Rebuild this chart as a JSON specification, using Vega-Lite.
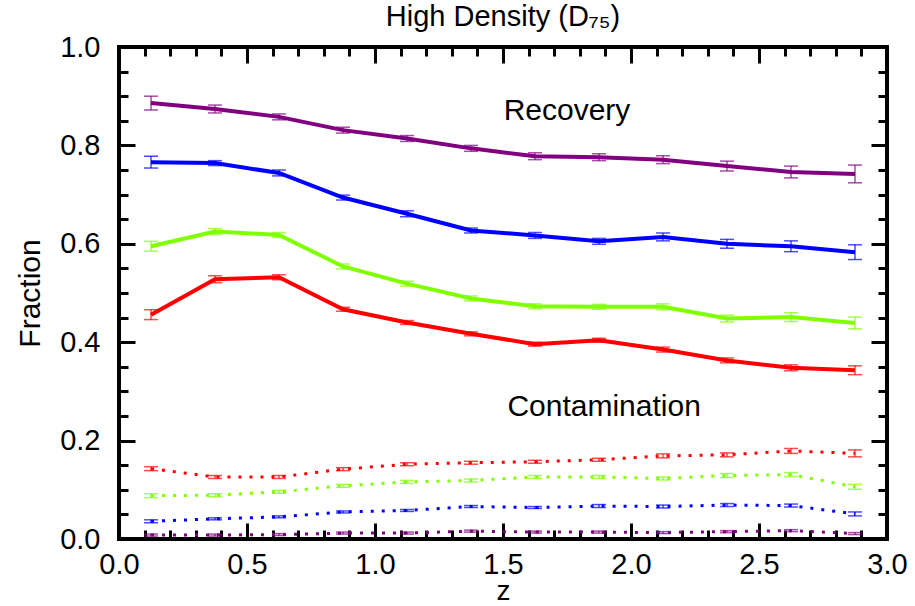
{
  "$schema": "https://vega.github.io/schema/vega-lite/v6.json",
  "width": 768,
  "height": 492,
  "autosize": {"type": "none"},
  "padding": {"left": 119, "top": 47, "right": 28, "bottom": 67},
  "background": "white",
  "config": {
    "font": "Liberation Sans",
    "view": {"stroke": "black", "strokeWidth": 4},
    "axis": {"domain": false, "grid": false, "labelFlush": false, "labelOverlap": false, "tickColor": "black", "tickWidth": 3, "labelColor": "black", "titleColor": "black", "labelFont": "Liberation Sans", "titleFont": "Liberation Sans", "titleFontWeight": "normal"}
  },
  "title": {"text": "High Density (D₇₅)", "fontSize": 29, "fontWeight": "normal", "font": "Liberation Sans", "color": "black", "offset": 14, "dy": 13, "anchor": "middle"},
  "datasets": {
    "points": [
      {"series": "S1", "kind": "recovery", "z": 0.125, "frac": 0.886, "lo": 0.872, "hi": 0.900},
      {"series": "S1", "kind": "recovery", "z": 0.375, "frac": 0.874, "lo": 0.866, "hi": 0.882},
      {"series": "S1", "kind": "recovery", "z": 0.625, "frac": 0.858, "lo": 0.852, "hi": 0.864},
      {"series": "S1", "kind": "recovery", "z": 0.875, "frac": 0.831, "lo": 0.825, "hi": 0.837},
      {"series": "S1", "kind": "recovery", "z": 1.125, "frac": 0.814, "lo": 0.808, "hi": 0.820},
      {"series": "S1", "kind": "recovery", "z": 1.375, "frac": 0.794, "lo": 0.788, "hi": 0.800},
      {"series": "S1", "kind": "recovery", "z": 1.625, "frac": 0.778, "lo": 0.771, "hi": 0.785},
      {"series": "S1", "kind": "recovery", "z": 1.875, "frac": 0.776, "lo": 0.769, "hi": 0.783},
      {"series": "S1", "kind": "recovery", "z": 2.125, "frac": 0.771, "lo": 0.763, "hi": 0.779},
      {"series": "S1", "kind": "recovery", "z": 2.375, "frac": 0.758, "lo": 0.748, "hi": 0.768},
      {"series": "S1", "kind": "recovery", "z": 2.625, "frac": 0.746, "lo": 0.734, "hi": 0.758},
      {"series": "S1", "kind": "recovery", "z": 2.875, "frac": 0.742, "lo": 0.724, "hi": 0.760},
      {"series": "S2", "kind": "recovery", "z": 0.125, "frac": 0.766, "lo": 0.754, "hi": 0.778},
      {"series": "S2", "kind": "recovery", "z": 0.375, "frac": 0.764, "lo": 0.759, "hi": 0.769},
      {"series": "S2", "kind": "recovery", "z": 0.625, "frac": 0.744, "lo": 0.738, "hi": 0.750},
      {"series": "S2", "kind": "recovery", "z": 0.875, "frac": 0.694, "lo": 0.689, "hi": 0.699},
      {"series": "S2", "kind": "recovery", "z": 1.125, "frac": 0.661, "lo": 0.655, "hi": 0.667},
      {"series": "S2", "kind": "recovery", "z": 1.375, "frac": 0.627, "lo": 0.622, "hi": 0.632},
      {"series": "S2", "kind": "recovery", "z": 1.625, "frac": 0.617, "lo": 0.611, "hi": 0.623},
      {"series": "S2", "kind": "recovery", "z": 1.875, "frac": 0.605, "lo": 0.599, "hi": 0.611},
      {"series": "S2", "kind": "recovery", "z": 2.125, "frac": 0.614, "lo": 0.606, "hi": 0.622},
      {"series": "S2", "kind": "recovery", "z": 2.375, "frac": 0.600, "lo": 0.591, "hi": 0.609},
      {"series": "S2", "kind": "recovery", "z": 2.625, "frac": 0.595, "lo": 0.584, "hi": 0.606},
      {"series": "S2", "kind": "recovery", "z": 2.875, "frac": 0.583, "lo": 0.568, "hi": 0.598},
      {"series": "S3", "kind": "recovery", "z": 0.125, "frac": 0.595, "lo": 0.585, "hi": 0.605},
      {"series": "S3", "kind": "recovery", "z": 0.375, "frac": 0.625, "lo": 0.619, "hi": 0.631},
      {"series": "S3", "kind": "recovery", "z": 0.625, "frac": 0.618, "lo": 0.613, "hi": 0.623},
      {"series": "S3", "kind": "recovery", "z": 0.875, "frac": 0.554, "lo": 0.549, "hi": 0.559},
      {"series": "S3", "kind": "recovery", "z": 1.125, "frac": 0.519, "lo": 0.514, "hi": 0.524},
      {"series": "S3", "kind": "recovery", "z": 1.375, "frac": 0.489, "lo": 0.484, "hi": 0.494},
      {"series": "S3", "kind": "recovery", "z": 1.625, "frac": 0.473, "lo": 0.468, "hi": 0.478},
      {"series": "S3", "kind": "recovery", "z": 1.875, "frac": 0.472, "lo": 0.467, "hi": 0.477},
      {"series": "S3", "kind": "recovery", "z": 2.125, "frac": 0.472, "lo": 0.466, "hi": 0.478},
      {"series": "S3", "kind": "recovery", "z": 2.375, "frac": 0.448, "lo": 0.441, "hi": 0.455},
      {"series": "S3", "kind": "recovery", "z": 2.625, "frac": 0.451, "lo": 0.442, "hi": 0.460},
      {"series": "S3", "kind": "recovery", "z": 2.875, "frac": 0.439, "lo": 0.427, "hi": 0.451},
      {"series": "S4", "kind": "recovery", "z": 0.125, "frac": 0.456, "lo": 0.446, "hi": 0.466},
      {"series": "S4", "kind": "recovery", "z": 0.375, "frac": 0.528, "lo": 0.521, "hi": 0.535},
      {"series": "S4", "kind": "recovery", "z": 0.625, "frac": 0.532, "lo": 0.527, "hi": 0.537},
      {"series": "S4", "kind": "recovery", "z": 0.875, "frac": 0.467, "lo": 0.463, "hi": 0.471},
      {"series": "S4", "kind": "recovery", "z": 1.125, "frac": 0.440, "lo": 0.436, "hi": 0.444},
      {"series": "S4", "kind": "recovery", "z": 1.375, "frac": 0.417, "lo": 0.413, "hi": 0.421},
      {"series": "S4", "kind": "recovery", "z": 1.625, "frac": 0.396, "lo": 0.392, "hi": 0.400},
      {"series": "S4", "kind": "recovery", "z": 1.875, "frac": 0.404, "lo": 0.400, "hi": 0.408},
      {"series": "S4", "kind": "recovery", "z": 2.125, "frac": 0.385, "lo": 0.380, "hi": 0.390},
      {"series": "S4", "kind": "recovery", "z": 2.375, "frac": 0.363, "lo": 0.358, "hi": 0.368},
      {"series": "S4", "kind": "recovery", "z": 2.625, "frac": 0.348, "lo": 0.342, "hi": 0.354},
      {"series": "S4", "kind": "recovery", "z": 2.875, "frac": 0.343, "lo": 0.334, "hi": 0.352},
      {"series": "S4", "kind": "contamination", "z": 0.125, "frac": 0.143, "lo": 0.139, "hi": 0.147},
      {"series": "S4", "kind": "contamination", "z": 0.375, "frac": 0.126, "lo": 0.123, "hi": 0.129},
      {"series": "S4", "kind": "contamination", "z": 0.625, "frac": 0.126, "lo": 0.123, "hi": 0.129},
      {"series": "S4", "kind": "contamination", "z": 0.875, "frac": 0.142, "lo": 0.139, "hi": 0.145},
      {"series": "S4", "kind": "contamination", "z": 1.125, "frac": 0.152, "lo": 0.149, "hi": 0.155},
      {"series": "S4", "kind": "contamination", "z": 1.375, "frac": 0.155, "lo": 0.152, "hi": 0.158},
      {"series": "S4", "kind": "contamination", "z": 1.625, "frac": 0.157, "lo": 0.154, "hi": 0.160},
      {"series": "S4", "kind": "contamination", "z": 1.875, "frac": 0.161, "lo": 0.158, "hi": 0.164},
      {"series": "S4", "kind": "contamination", "z": 2.125, "frac": 0.169, "lo": 0.165, "hi": 0.173},
      {"series": "S4", "kind": "contamination", "z": 2.375, "frac": 0.171, "lo": 0.167, "hi": 0.175},
      {"series": "S4", "kind": "contamination", "z": 2.625, "frac": 0.179, "lo": 0.174, "hi": 0.184},
      {"series": "S4", "kind": "contamination", "z": 2.875, "frac": 0.174, "lo": 0.167, "hi": 0.181},
      {"series": "S3", "kind": "contamination", "z": 0.125, "frac": 0.088, "lo": 0.084, "hi": 0.092},
      {"series": "S3", "kind": "contamination", "z": 0.375, "frac": 0.089, "lo": 0.086, "hi": 0.092},
      {"series": "S3", "kind": "contamination", "z": 0.625, "frac": 0.096, "lo": 0.093, "hi": 0.099},
      {"series": "S3", "kind": "contamination", "z": 0.875, "frac": 0.108, "lo": 0.105, "hi": 0.111},
      {"series": "S3", "kind": "contamination", "z": 1.125, "frac": 0.116, "lo": 0.113, "hi": 0.119},
      {"series": "S3", "kind": "contamination", "z": 1.375, "frac": 0.119, "lo": 0.116, "hi": 0.122},
      {"series": "S3", "kind": "contamination", "z": 1.625, "frac": 0.126, "lo": 0.123, "hi": 0.129},
      {"series": "S3", "kind": "contamination", "z": 1.875, "frac": 0.126, "lo": 0.123, "hi": 0.129},
      {"series": "S3", "kind": "contamination", "z": 2.125, "frac": 0.123, "lo": 0.120, "hi": 0.126},
      {"series": "S3", "kind": "contamination", "z": 2.375, "frac": 0.129, "lo": 0.125, "hi": 0.133},
      {"series": "S3", "kind": "contamination", "z": 2.625, "frac": 0.131, "lo": 0.127, "hi": 0.135},
      {"series": "S3", "kind": "contamination", "z": 2.875, "frac": 0.106, "lo": 0.101, "hi": 0.111},
      {"series": "S2", "kind": "contamination", "z": 0.125, "frac": 0.036, "lo": 0.033, "hi": 0.039},
      {"series": "S2", "kind": "contamination", "z": 0.375, "frac": 0.041, "lo": 0.039, "hi": 0.043},
      {"series": "S2", "kind": "contamination", "z": 0.625, "frac": 0.045, "lo": 0.043, "hi": 0.047},
      {"series": "S2", "kind": "contamination", "z": 0.875, "frac": 0.055, "lo": 0.053, "hi": 0.057},
      {"series": "S2", "kind": "contamination", "z": 1.125, "frac": 0.058, "lo": 0.056, "hi": 0.060},
      {"series": "S2", "kind": "contamination", "z": 1.375, "frac": 0.066, "lo": 0.064, "hi": 0.068},
      {"series": "S2", "kind": "contamination", "z": 1.625, "frac": 0.064, "lo": 0.062, "hi": 0.066},
      {"series": "S2", "kind": "contamination", "z": 1.875, "frac": 0.067, "lo": 0.064, "hi": 0.070},
      {"series": "S2", "kind": "contamination", "z": 2.125, "frac": 0.066, "lo": 0.063, "hi": 0.069},
      {"series": "S2", "kind": "contamination", "z": 2.375, "frac": 0.069, "lo": 0.066, "hi": 0.072},
      {"series": "S2", "kind": "contamination", "z": 2.625, "frac": 0.068, "lo": 0.065, "hi": 0.071},
      {"series": "S2", "kind": "contamination", "z": 2.875, "frac": 0.051, "lo": 0.047, "hi": 0.055},
      {"series": "S1", "kind": "contamination", "z": 0.125, "frac": 0.008, "lo": 0.006, "hi": 0.010},
      {"series": "S1", "kind": "contamination", "z": 0.375, "frac": 0.008, "lo": 0.006, "hi": 0.010},
      {"series": "S1", "kind": "contamination", "z": 0.625, "frac": 0.009, "lo": 0.007, "hi": 0.011},
      {"series": "S1", "kind": "contamination", "z": 0.875, "frac": 0.012, "lo": 0.010, "hi": 0.014},
      {"series": "S1", "kind": "contamination", "z": 1.125, "frac": 0.012, "lo": 0.010, "hi": 0.014},
      {"series": "S1", "kind": "contamination", "z": 1.375, "frac": 0.016, "lo": 0.014, "hi": 0.018},
      {"series": "S1", "kind": "contamination", "z": 1.625, "frac": 0.014, "lo": 0.012, "hi": 0.016},
      {"series": "S1", "kind": "contamination", "z": 1.875, "frac": 0.014, "lo": 0.012, "hi": 0.016},
      {"series": "S1", "kind": "contamination", "z": 2.125, "frac": 0.013, "lo": 0.011, "hi": 0.015},
      {"series": "S1", "kind": "contamination", "z": 2.375, "frac": 0.015, "lo": 0.013, "hi": 0.017},
      {"series": "S1", "kind": "contamination", "z": 2.625, "frac": 0.017, "lo": 0.015, "hi": 0.019},
      {"series": "S1", "kind": "contamination", "z": 2.875, "frac": 0.011, "lo": 0.009, "hi": 0.013}
    ],
    "labels": [
      {"label": "Recovery", "z": 1.75, "frac": 0.87},
      {"label": "Contamination", "z": 1.895, "frac": 0.268}
    ]
  },
  "resolve": {"axis": {"x": "independent", "y": "independent"}},
  "layer": [
    {
      "data": {"name": "points"},
      "transform": [{"filter": "datum.kind === 'recovery'"}],
      "mark": {"type": "line", "strokeWidth": 4},
      "encoding": {
        "x": {"field": "z", "type": "quantitative", "scale": {"domain": [0, 3], "nice": false, "zero": false},
              "axis": {"orient": "bottom", "values": [0, 0.5, 1, 1.5, 2, 2.5, 3], "format": ".1f", "tickSize": -16, "labelFontSize": 29, "labelPadding": 27, "title": "z", "titleFontSize": 28, "titlePadding": -2}},
        "y": {"field": "frac", "type": "quantitative", "scale": {"domain": [0, 1], "nice": false, "zero": false},
              "axis": {"orient": "left", "values": [0, 0.2, 0.4, 0.6, 0.8, 1], "format": ".1f", "tickSize": -16, "labelFontSize": 29, "labelPadding": 35, "title": "Fraction", "titleFontSize": 30, "titlePadding": 14}},
        "color": {"field": "series", "type": "nominal", "scale": {"domain": ["S1", "S2", "S3", "S4"], "range": ["#800080", "#0000ff", "#80ff00", "#ff0000"]}, "legend": null}
      }
    },
    {
      "data": {"name": "points"},
      "transform": [{"filter": "datum.kind === 'contamination'"}],
      "mark": {"type": "line", "strokeWidth": 3, "strokeDash": [3, 8]},
      "encoding": {
        "x": {"field": "z", "type": "quantitative",
              "axis": {"orient": "bottom", "values": [0.1, 0.2, 0.3, 0.4, 0.6, 0.7, 0.8, 0.9, 1.1, 1.2, 1.3, 1.4, 1.6, 1.7, 1.8, 1.9, 2.1, 2.2, 2.3, 2.4, 2.6, 2.7, 2.8, 2.9], "labels": false, "tickSize": -9, "title": null}},
        "y": {"field": "frac", "type": "quantitative",
              "axis": {"orient": "left", "values": [0.05, 0.1, 0.15, 0.25, 0.3, 0.35, 0.45, 0.5, 0.55, 0.65, 0.7, 0.75, 0.85, 0.9, 0.95], "labels": false, "tickSize": -9, "title": null}},
        "color": {"field": "series", "type": "nominal", "legend": null}
      }
    },
    {
      "data": {"name": "points"},
      "mark": {"type": "rule", "strokeWidth": 1.5, "opacity": 0.7},
      "encoding": {
        "x": {"field": "z", "type": "quantitative",
              "axis": {"orient": "top", "values": [0, 0.5, 1, 1.5, 2, 2.5, 3], "labels": false, "tickSize": -16, "title": null}},
        "y": {"field": "lo", "type": "quantitative",
              "axis": {"orient": "right", "values": [0, 0.2, 0.4, 0.6, 0.8, 1], "labels": false, "tickSize": -16, "title": null}},
        "y2": {"field": "hi"},
        "color": {"field": "series", "type": "nominal", "legend": null}
      }
    },
    {
      "data": {"name": "points"},
      "mark": {"type": "tick", "orient": "horizontal", "size": 14, "thickness": 1.5, "opacity": 0.7},
      "encoding": {
        "x": {"field": "z", "type": "quantitative",
              "axis": {"orient": "top", "values": [0.1, 0.2, 0.3, 0.4, 0.6, 0.7, 0.8, 0.9, 1.1, 1.2, 1.3, 1.4, 1.6, 1.7, 1.8, 1.9, 2.1, 2.2, 2.3, 2.4, 2.6, 2.7, 2.8, 2.9], "labels": false, "tickSize": -9, "title": null}},
        "y": {"field": "lo", "type": "quantitative",
              "axis": {"orient": "right", "values": [0.05, 0.1, 0.15, 0.25, 0.3, 0.35, 0.45, 0.5, 0.55, 0.65, 0.7, 0.75, 0.85, 0.9, 0.95], "labels": false, "tickSize": -9, "title": null}},
        "color": {"field": "series", "type": "nominal", "legend": null}
      }
    },
    {
      "data": {"name": "points"},
      "mark": {"type": "tick", "orient": "horizontal", "size": 14, "thickness": 1.5, "opacity": 0.7},
      "encoding": {
        "x": {"field": "z", "type": "quantitative", "axis": null},
        "y": {"field": "hi", "type": "quantitative", "axis": null},
        "color": {"field": "series", "type": "nominal", "legend": null}
      }
    },
    {
      "data": {"name": "labels"},
      "mark": {"type": "text", "fontSize": 30, "font": "Liberation Sans", "color": "black", "align": "center", "baseline": "middle"},
      "encoding": {
        "x": {"field": "z", "type": "quantitative", "axis": null},
        "y": {"field": "frac", "type": "quantitative", "axis": null},
        "text": {"field": "label", "type": "nominal"}
      }
    }
  ]
}
